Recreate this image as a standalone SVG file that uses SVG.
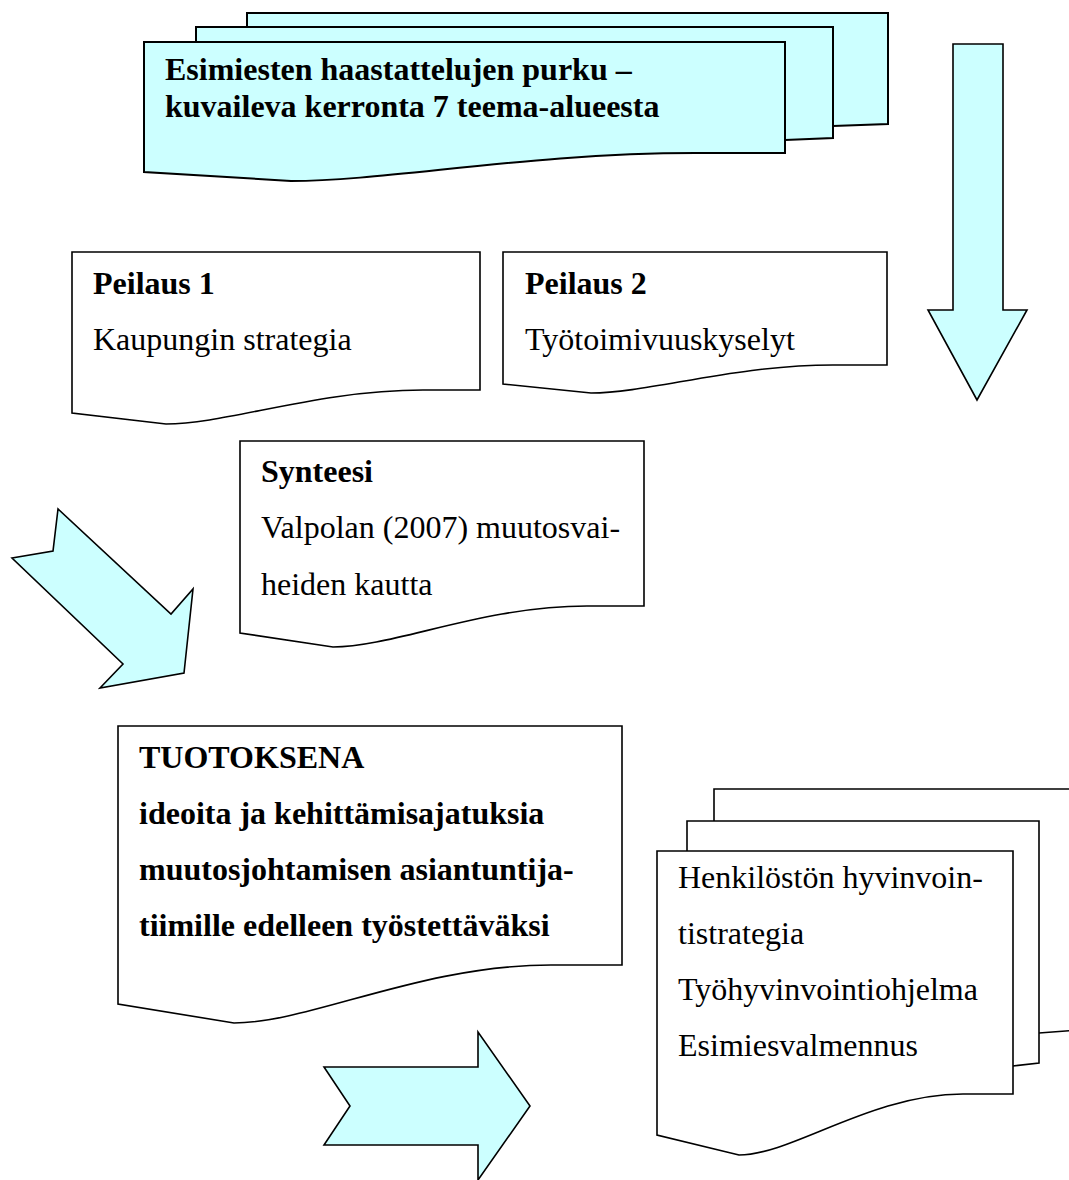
<svg xmlns="http://www.w3.org/2000/svg" width="1069" height="1180" viewBox="0 0 1069 1180">
<style>
.cy{fill:#CCFFFF;stroke:#000;stroke-width:2;stroke-linejoin:miter}
.wd{fill:#FFFFFF;stroke:#000;stroke-width:1.6;stroke-linejoin:miter}
.ar{fill:#CCFFFF;stroke:#000;stroke-width:1.6;stroke-linejoin:miter}
text{font-family:"Liberation Serif","Times New Roman",serif;font-size:32px;fill:#000}
.b{font-weight:bold}
</style>
<rect width="1069" height="1180" fill="#FFFFFF"/>
<g id="node-haastattelut">
<path class="cy" d="M247,13 H888 V124 L833,126 L247,126 Z"/>
<path class="cy" d="M196,27 H833 V138 L785,140 L196,140 Z"/>
<path class="cy" d="M144,42 H785 V153 L695,153 C529,153 388,181 291,181 L144,172 Z"/>
<text class="b" x="165" y="80">Esimiesten haastattelujen purku –</text>
<text class="b" x="165" y="117">kuvaileva kerronta 7 teema-alueesta</text>
</g>
<g id="node-peilaus1">
<path class="wd" d="M72,252 H480 V390 L423,390 C317,390 227,424 166,424 L72,413 Z"/>
<text class="b" x="93" y="294">Peilaus 1</text>
<text x="93" y="350">Kaupungin strategia</text>
</g>
<g id="node-peilaus2">
<path class="wd" d="M503,252 H887 V365 L833,365 C733,365 649,393 591,393 L503,384 Z"/>
<text class="b" x="525" y="294">Peilaus 2</text>
<text x="525" y="350">Työtoimivuuskyselyt</text>
</g>
<g id="node-synteesi">
<path class="wd" d="M240,441 H644 V606 L587,606 C482,606 394,647 333,647 L240,633 Z"/>
<text class="b" x="261" y="482">Synteesi</text>
<text x="261" y="538">Valpolan (2007) muutosvai-</text>
<text x="261" y="595">heiden kautta</text>
</g>
<g id="node-tuotoksena">
<path class="wd" d="M118,726 H622 V965 L551,965 C420,965 310,1023 234,1023 L118,1004 Z"/>
<text class="b" x="139" y="768">TUOTOKSENA</text>
<text class="b" x="139" y="824">ideoita ja kehittämisajatuksia</text>
<text class="b" x="139" y="880">muutosjohtamisen asiantuntija-</text>
<text class="b" x="139" y="936">tiimille edelleen työstettäväksi</text>
</g>
<g id="node-ohjelmat">
<path class="wd" d="M714,789 H1080 V1030 L1039,1033 L714,1033 Z"/>
<path class="wd" d="M687,821 H1039 V1063 L1013,1066 L687,1066 Z"/>
<path class="wd" d="M657,851 H1013 V1094 L963,1094 C871,1094 792,1155 739,1155 L657,1135 Z"/>
<text x="678" y="888">Henkilöstön hyvinvoin-</text>
<text x="678" y="944">tistrategia</text>
<text x="678" y="1000">Työhyvinvointiohjelma</text>
<text x="678" y="1056">Esimiesvalmennus</text>
</g>
<g id="connectors">
<path class="ar" d="M953,44 H1003 V310 H1027 L977,400 L928,310 H953 Z"/>
<path class="ar" d="M58,509 L53,551 L12,558 L123,664 L100,688 L184,673 L193,589 L171,614 Z"/>
<path class="ar" d="M324,1067 H478 V1032 L530,1106 L478,1180 V1145 H324 L350,1106 Z"/>
</g>
</svg>
